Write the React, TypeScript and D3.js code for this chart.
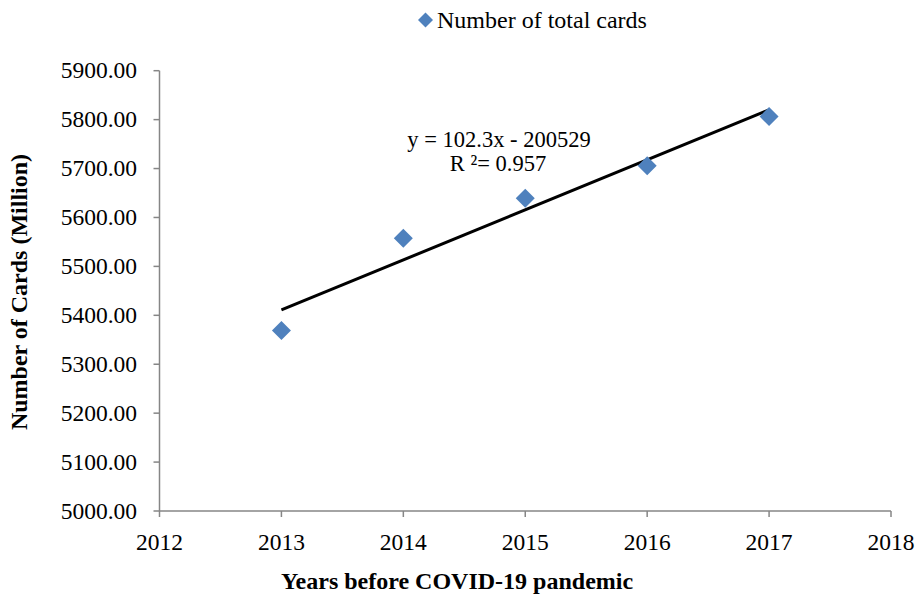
import React from "react";
import * as d3 from "d3";

const years = [2013, 2014, 2015, 2016, 2017];
const totalCards = [5368.7, 5557.7, 5639.5, 5705.5, 5806.3];
const xTicks = [2012, 2013, 2014, 2015, 2016, 2017, 2018];
const yTicks = [5000, 5100, 5200, 5300, 5400, 5500, 5600, 5700, 5800, 5900];
const seriesName = "Number of total cards";
const equationText = "y = 102.3x - 200529";
const r2Text = "R ²= 0.957";
const xTitle = "Years before COVID-19 pandemic";
const yTitle = "Number of Cards (Million)";

const W = 917;
const H = 598;
const FONT = "'Liberation Serif', 'Times New Roman', serif";
const AXIS = "#868686";
const BLUE = "#4F81BD";

export default function App() {
  const x = d3.scaleLinear().domain([2012, 2018]).range([159.5, 891]);
  const y = d3.scaleLinear().domain([5000, 5900]).range([511, 70.7]);

  const n = years.length;
  const mx = d3.mean(years)!;
  const my = d3.mean(totalCards)!;
  let sxy = 0, sxx = 0;
  years.forEach((yr, i) => {
    sxy += (yr - mx) * (totalCards[i] - my);
    sxx += (yr - mx) * (yr - mx);
  });
  const slope = sxy / sxx;
  const intercept = my - slope * mx;
  const trend = d3.line<number>().x((d) => x(d)).y((d) => y(slope * d + intercept));
  const trendYears = [years[0], years[n - 1]];

  const diamond = (cx: number, cy: number, r: number) =>
    `M${cx},${cy - r}L${cx + r},${cy}L${cx},${cy + r}L${cx - r},${cy}Z`;

  return (
    <svg width={W} height={H} style={{ position: "absolute", left: 0, top: 0, background: "#fff" }}>
      <rect width={W} height={H} fill="#fff" />
      {/* Legend */}
      <path d={diamond(425.5, 20, 7.5)} fill={BLUE} />
      <text x={437} y={28} fontFamily={FONT} fontSize={24} fill="#000">{seriesName}</text>

      {/* Y axis */}
      <line x1={x(2012)} x2={x(2012)} y1={y(5900)} y2={y(5000)} stroke={AXIS} strokeWidth={1.5} />
      {yTicks.map((t) => (
        <g key={t}>
          <line x1={x(2012) - 6} x2={x(2012)} y1={y(t)} y2={y(t)} stroke={AXIS} strokeWidth={1.5} />
          <text x={137} y={y(t) + 7.5} textAnchor="end" fontFamily={FONT} fontSize={23.5} fill="#000">
            {t.toFixed(2)}
          </text>
        </g>
      ))}

      {/* X axis */}
      <line x1={x(2012)} x2={x(2018)} y1={y(5000)} y2={y(5000)} stroke={AXIS} strokeWidth={1.5} />
      {xTicks.map((t) => (
        <g key={t}>
          <line x1={x(t)} x2={x(t)} y1={y(5000)} y2={y(5000) + 6} stroke={AXIS} strokeWidth={1.5} />
          <text x={x(t)} y={550} textAnchor="middle" fontFamily={FONT} fontSize={23.5} fill="#000">
            {t}
          </text>
        </g>
      ))}

      {/* Trendline */}
      <path d={trend(trendYears)!} stroke="#000" strokeWidth={3} fill="none" />

      {/* Points */}
      {years.map((yr, i) => (
        <path key={yr} d={diamond(x(yr), y(totalCards[i]), 9.5)} fill={BLUE} />
      ))}

      {/* Equation */}
      <text x={499} y={147} textAnchor="middle" fontFamily={FONT} fontSize={22.5} fill="#000">{equationText}</text>
      <text x={498} y={171} textAnchor="middle" fontFamily={FONT} fontSize={22.5} fill="#000">{r2Text}</text>

      {/* Axis titles */}
      <text x={457} y={589} textAnchor="middle" fontFamily={FONT} fontSize={24} fontWeight="bold" fill="#000">
        {xTitle}
      </text>
      <text
        transform={`translate(27,292) rotate(-90)`}
        textAnchor="middle"
        fontFamily={FONT}
        fontSize={24}
        fontWeight="bold"
        fill="#000"
      >
        {yTitle}
      </text>
    </svg>
  );
}
